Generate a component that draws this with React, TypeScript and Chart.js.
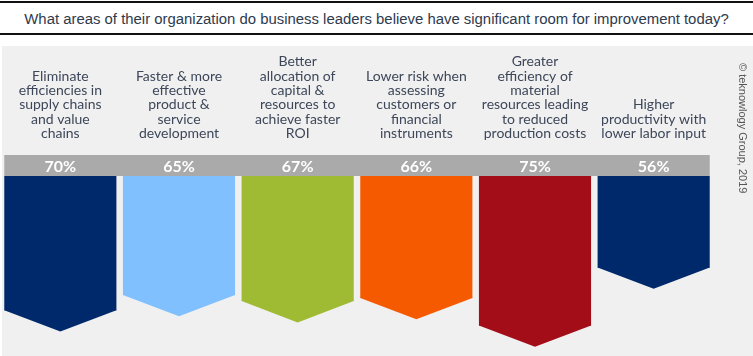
import { useEffect, useRef } from "react";
import { Chart, registerables } from "chart.js";

Chart.register(...registerables);

const titleText =
  "What areas of their organization do business leaders believe have significant room for improvement today?";
const creditText = "© teknowlogy Group, 2019";

const categories: string[][] = [
  ["Eliminate", "efficiencies in", "supply chains", "and value", "chains"],
  ["Faster & more", "effective", "product &", "service", "development"],
  ["Better", "allocation of", "capital &", "resources to", "achieve faster", "ROI"],
  ["Lower risk when", "assessing", "customers or", "financial", "instruments"],
  ["Greater", "efficiency of", "material", "resources leading", "to reduced", "production costs"],
  ["Higher", "productivity with", "lower labor input"],
];
const values: number[] = [70, 65, 67, 66, 75, 56];
const percentLabels: string[] = values.map((v) => `${v}%`);
const barColors: string[] = ["#00296b", "#80c0ff", "#9fba33", "#f55a00", "#a30d18", "#00296b"];

const bandPlugin = {
  id: "band",
  beforeDraw(chart: any) {
    const meta = chart.getDatasetMeta(0);
    const s = chart.scales.pct;
    if (!meta || !meta.data.length || !s) return;
    const first = meta.data[0].getProps(["x", "width"], true);
    const last = meta.data[meta.data.length - 1].getProps(["x", "width"], true);
    const ctx = chart.ctx;
    ctx.save();
    ctx.fillStyle = "#aaaaaa";
    ctx.fillRect(first.x - first.width / 2, s.top, last.x + last.width / 2 - (first.x - first.width / 2), s.bottom - s.top);
    ctx.restore();
  },
};

const chevronPlugin = {
  id: "chevron",
  afterDatasetsDraw(chart: any) {
    const meta = chart.getDatasetMeta(0);
    const ctx = chart.ctx;
    ctx.save();
    meta.data.forEach((el: any, i: number) => {
      const { x, y, width } = el.getProps(["x", "y", "width"], true);
      const depth = width * 0.19;
      ctx.fillStyle = barColors[i % barColors.length];
      ctx.beginPath();
      ctx.moveTo(x - width / 2, y - 0.5);
      ctx.lineTo(x + width / 2, y - 0.5);
      ctx.lineTo(x + width / 2, y);
      ctx.lineTo(x, y + depth);
      ctx.lineTo(x - width / 2, y);
      ctx.closePath();
      ctx.fill();
    });
    ctx.restore();
  },
};

function BarsChart() {
  const ref = useRef<HTMLCanvasElement>(null);
  useEffect(() => {
    if (!ref.current) return;
    const chart = new Chart(ref.current, {
      type: "bar",
      data: {
        labels: categories as any,
        datasets: [
          {
            data: values,
            backgroundColor: barColors,
            borderWidth: 0,
            barPercentage: 0.945,
            categoryPercentage: 1,
            xAxisID: "x",
            yAxisID: "y",
          },
        ],
      },
      options: {
        animation: false,
        responsive: false,
        maintainAspectRatio: false,
        layout: { padding: { left: 1, right: 40, top: 0, bottom: 0 } },
        plugins: { legend: { display: false }, tooltip: { enabled: false } },
        scales: {
          x: {
            type: "category",
            position: "top",
            weight: 1,
            offset: true,
            grid: { display: false, drawTicks: false },
            border: { display: false },
            ticks: {
              font: { family: "Lato", size: 14, lineHeight: 1.03 },
              color: "#3d4759",
              padding: 14,
              maxRotation: 0,
              autoSkip: false,
            },
            afterFit: (s: any) => {
              s.height = 109;
            },
          },
          pct: {
            type: "category",
            position: "top",
            weight: 0,
            offset: true,
            labels: percentLabels,
            grid: { display: false, drawTicks: false },
            border: { display: false },
            ticks: {
              font: { family: "Lato", size: 16, weight: "bold", lineHeight: 1.2 },
              color: "#ffffff",
              padding: 0,
              maxRotation: 0,
              autoSkip: false,
            },
            afterFit: (s: any) => {
              s.height = 21;
            },
          },
          y: { type: "linear", reverse: true, min: 26, max: 85, display: false },
        },
      } as any,
      plugins: [bandPlugin, chevronPlugin],
    });
    return () => chart.destroy();
  }, []);
  return <canvas ref={ref} width={753} height={310} style={{ position: "absolute", left: 0, top: 46, width: 753, height: 310 }} />;
}

export default function App() {
  return (
    <div style={{ position: "fixed", left: 0, top: 0, width: 753, height: 356, background: "#ffffff", overflow: "hidden" }}>
      <div
        style={{
          position: "absolute",
          left: 0,
          top: 1,
          width: 753,
          height: 34,
          boxSizing: "border-box",
          borderTop: "2px solid #111",
          borderBottom: "2px solid #111",
          textAlign: "center",
          fontFamily: "'Liberation Sans', Arial, sans-serif",
          fontSize: 14.9,
          lineHeight: "30px",
          paddingTop: 1,
          color: "#2e3a4e",
          whiteSpace: "nowrap",
        }}
      >
        {titleText}
      </div>
      <div style={{ position: "absolute", left: 2, top: 46, width: 751, height: 310, background: "#f0f0f0" }} />
      <BarsChart />
      <div
        style={{
          position: "absolute",
          left: 737,
          top: 63,
          writingMode: "vertical-rl",
          textOrientation: "sideways",
          fontFamily: "'Liberation Sans', Arial, sans-serif",
          fontSize: 11,
          lineHeight: "11px",
          color: "#555",
          whiteSpace: "nowrap",
        }}
      >
        {creditText}
      </div>
    </div>
  );
}
